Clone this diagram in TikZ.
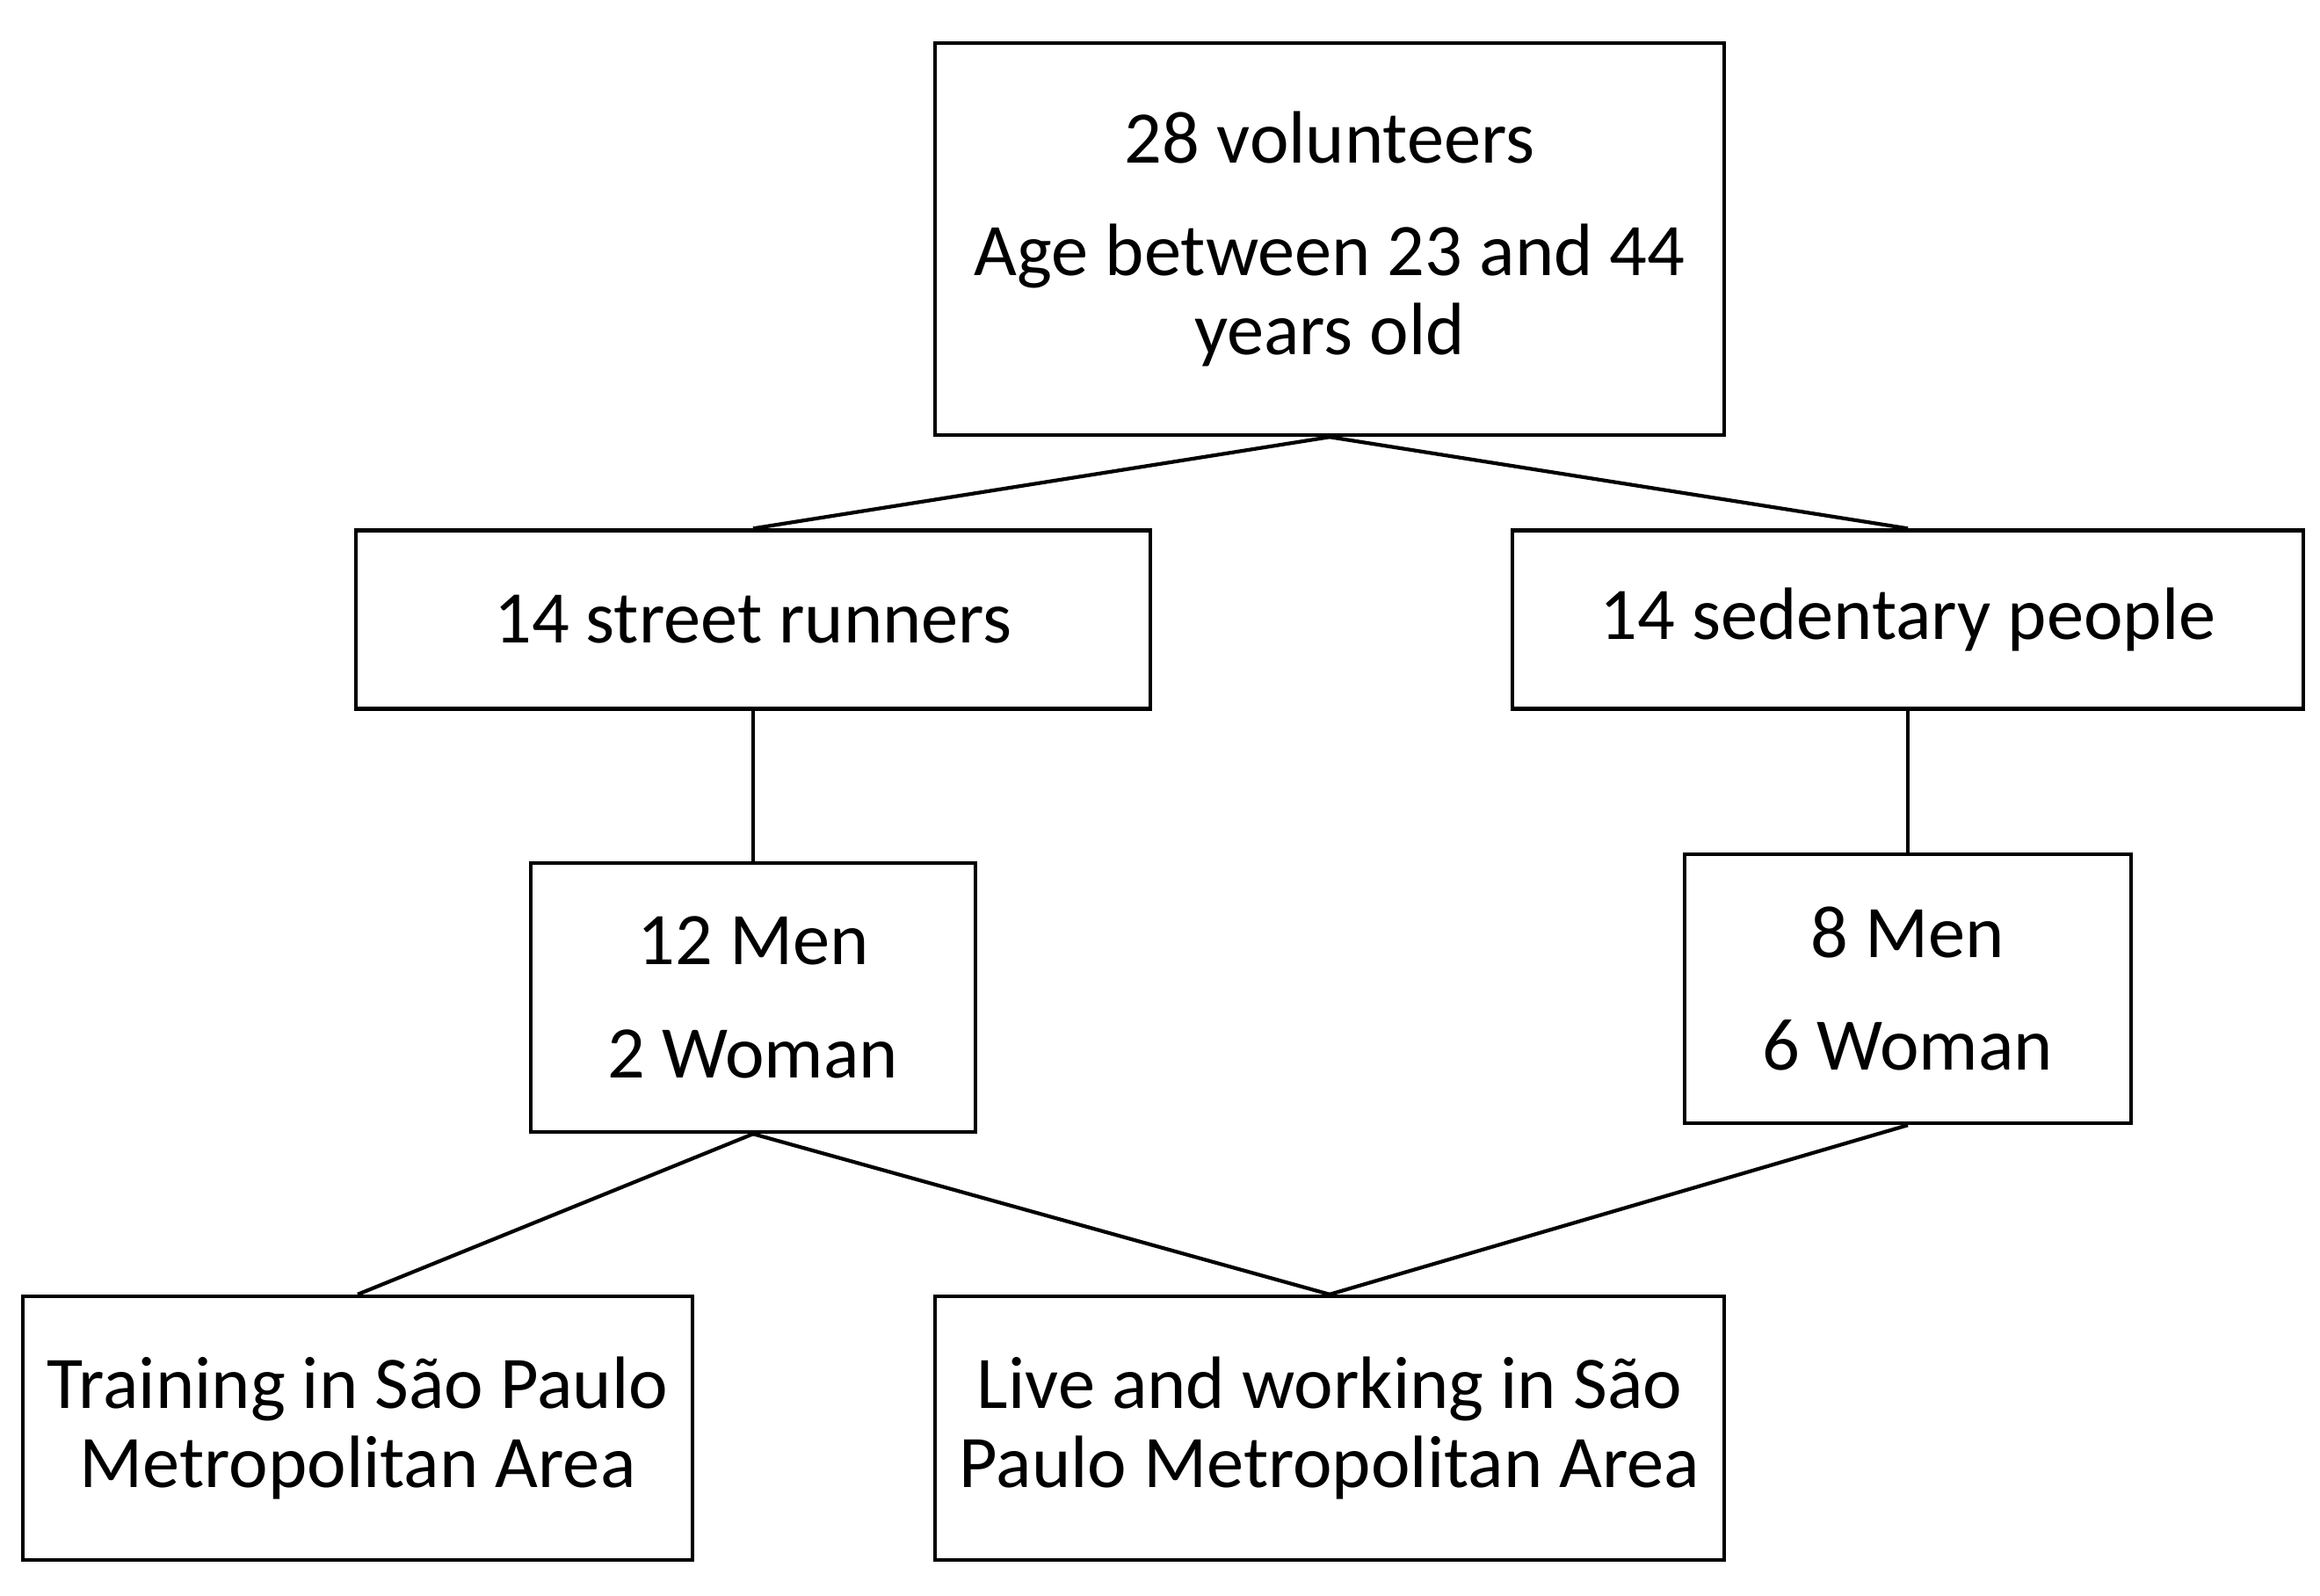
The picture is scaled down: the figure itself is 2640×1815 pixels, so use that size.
\documentclass[tikz,border=0pt]{standalone}
\usepackage{fontspec}
\setmainfont{Carlito}
\usepackage{tikz}

\begin{document}
\begin{tikzpicture}[x=0.01cm, y=-0.01cm,
  box/.style={draw, line width=1.2pt, inner sep=0pt, align=center,
              font=\fontsize{24}{25.6}\selectfont}]
             \useasboundingbox (0,0) rectangle (2640,1815);

             \node[box, minimum width=8.98cm, minimum height=4.46cm] (top) at (1513, 272)
                  {28 volunteers\\[11pt]Age between 23 and 44\\years old};

             \node[box, minimum width=9.03cm, minimum height=2.03cm] (runners) at (857, 705) {14 street runners};
             \node[box, minimum width=9.0cm, minimum height=2.03cm] (sedentary) at (2171, 705) {14 sedentary people};

             \node[box, minimum width=5.05cm, minimum height=3.06cm] (menA) at (857, 1135) {12 Men\\[11pt]2 Woman};
             \node[box, minimum width=5.08cm, minimum height=3.06cm] (menB) at (2171, 1125) {8 Men\\[11pt]6 Woman};

             \node[box, minimum width=7.62cm, minimum height=3.00cm] (train) at (407, 1625)
                  {Training in São Paulo\\Metropolitan Area};
             \node[box, minimum width=8.97cm, minimum height=3.00cm] (live) at (1513, 1625)
                  {Live and working in São\\Paulo Metropolitan Area};

             \draw[line width=1.2pt] (top.south) -- (runners.north);
             \draw[line width=1.2pt] (top.south) -- (sedentary.north);
             \draw[line width=1.2pt] (runners.south) -- (menA.north);
             \draw[line width=1.2pt] (sedentary.south) -- (menB.north);
             \draw[line width=1.2pt] (menA.south) -- (train.north);
             \draw[line width=1.2pt] (menA.south) -- (live.north);
             \draw[line width=1.2pt] (menB.south) -- (live.north);
             \end{tikzpicture}
\end{document}
